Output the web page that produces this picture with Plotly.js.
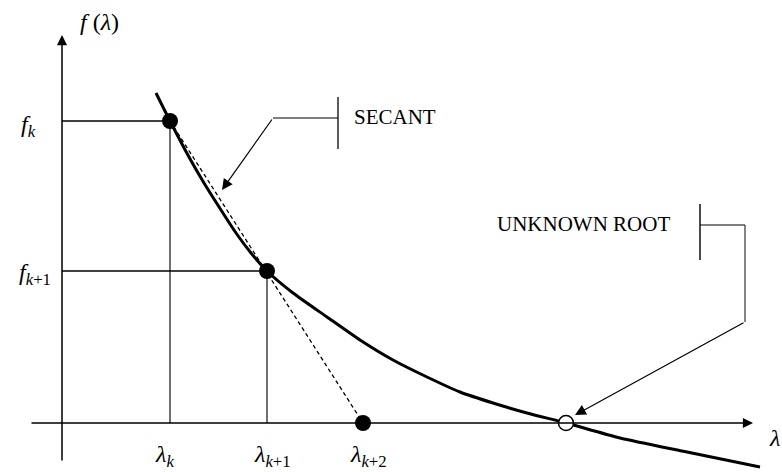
<!DOCTYPE html>
<html>
<head>
<meta charset="utf-8">
<script src="https://cdn.plot.ly/plotly-3.0.1.min.js"></script>
<style>html,body{margin:0;padding:0;background:#fff;}#chart{width:782px;height:472px;}</style>
</head>
<body>
<div id="chart"></div>
<script>
// Curve f(lambda) (origin at the axes' crossing)
var curveX = [94, 108, 127, 142, 159, 174, 189, 205, 231, 265, 298, 331, 365, 398, 431, 465, 504, 558, 625, 698];
var curveY = [330, 302, 266, 240, 213, 190, 170, 152, 130, 106, 83, 63, 46, 31, 20, 10, 0, -15, -29, -44];
// Secant iterates
var lambdaPts = [108, 205, 301];
var fPts = [302, 152, 0];
var lambdaLabels = ['<i>λ</i><sub><i>k</i></sub>', '<i>λ</i><sub><i>k</i>+1</sub>', '<i>λ</i><sub><i>k</i>+2</sub>'];
var fLabels = ['<i>f</i><sub><i>k</i></sub>', '<i>f</i><sub><i>k</i>+1</sub>'];
var rootX = [504];
var rootY = [0];
// Axis extents
var xAxisSpan = [-32, 691];
var yAxisSpan = [-39, 388];
// Callouts
var secantText = 'SECANT';
var rootText = 'UNKNOWN ROOT';

var serif = 'Liberation Serif, Times New Roman, serif';
var black = '#000';

var traces = [
  {x: [lambdaPts[0], lambdaPts[2]], y: [fPts[0], fPts[2]], mode: 'lines',
   line: {color: black, width: 1.3, dash: '4px,3px'}, hoverinfo: 'skip'},
  {x: curveX, y: curveY, mode: 'lines', line: {color: black, width: 3, shape: 'spline', smoothing: 0.6}, hoverinfo: 'skip'},
  {x: lambdaPts, y: fPts, mode: 'markers', marker: {color: black, size: 16}, hoverinfo: 'skip'},
  {x: rootX, y: rootY, mode: 'markers', marker: {color: '#fff', size: 15, line: {color: black, width: 1.5}}, hoverinfo: 'skip'}
];

function seg(x0, y0, x1, y1, color, w) {
  return {type: 'line', xref: 'x', yref: 'y', x0: x0, y0: y0, x1: x1, y1: y1,
          line: {color: color || black, width: w || 1.3}, layer: 'below'};
}

var shapes = [
  // guide lines
  seg(0, fPts[0], lambdaPts[0], fPts[0], black, 1.4),
  seg(lambdaPts[0], 0, lambdaPts[0], fPts[0], '#333', 1.4),
  seg(0, fPts[1], lambdaPts[1], fPts[1], black, 1.4),
  seg(lambdaPts[1], 0, lambdaPts[1], fPts[1], '#333', 1.4),
  // secant callout
  seg(276, 274, 276, 326, '#333', 1.6),
  seg(211, 305, 276, 305, black, 1.2),
  // root callout
  seg(638, 163, 638, 219, black, 1.4),
  seg(638, 198, 683, 198, black, 1.2),
  seg(683, 198, 683, 101, '#333', 1.2)
];

function arrow(x, y, ax, ay, w, s) {
  return {x: x, y: y, ax: ax, ay: ay, xref: 'x', yref: 'y', axref: 'x', ayref: 'y',
          showarrow: true, arrowhead: 2, arrowsize: s, arrowwidth: w, arrowcolor: black,
          standoff: 0, startstandoff: 0, text: ''};
}

function label(text, x, y, xa, size) {
  return {x: x, y: y, xref: 'x', yref: 'y', text: text, showarrow: false,
          xanchor: xa, yanchor: 'middle', font: {family: serif, size: size, color: black}};
}

var annotations = [
  arrow(xAxisSpan[1], 0, xAxisSpan[0], 0, 1.5, 1.35),
  arrow(0, yAxisSpan[1], 0, yAxisSpan[0], 1.5, 1.35),
  arrow(160, 233, 211, 305, 1.2, 1.8),
  arrow(513, 8, 683, 101, 1.2, 1.8),
  label('<i>f</i> (<i>λ</i>)', 16, 401, 'left', 24),
  label(fLabels[0], -24, 297, 'right', 24),
  label(fLabels[1], -9, 149, 'right', 24),
  label(lambdaLabels[0], 102, -33, 'center', 24),
  label(lambdaLabels[1], 210, -33, 'center', 24),
  label(lambdaLabels[2], 306, -33, 'center', 24),
  label('<i>λ</i>', 712, -15, 'center', 24),
  label(secantText, 290, 306, 'left', 21),
  label(rootText, 433, 199, 'left', 21)
];

var layout = {
  width: 782, height: 472,
  margin: {l: 0, r: 0, t: 0, b: 0},
  paper_bgcolor: '#fff', plot_bgcolor: '#fff',
  showlegend: false,
  xaxis: {range: [-62, 720], visible: false, fixedrange: true},
  yaxis: {range: [-49, 423], visible: false, fixedrange: true},
  shapes: shapes,
  annotations: annotations
};

Plotly.newPlot('chart', traces, layout, {staticPlot: true, displayModeBar: false});
</script>
</body>
</html>
